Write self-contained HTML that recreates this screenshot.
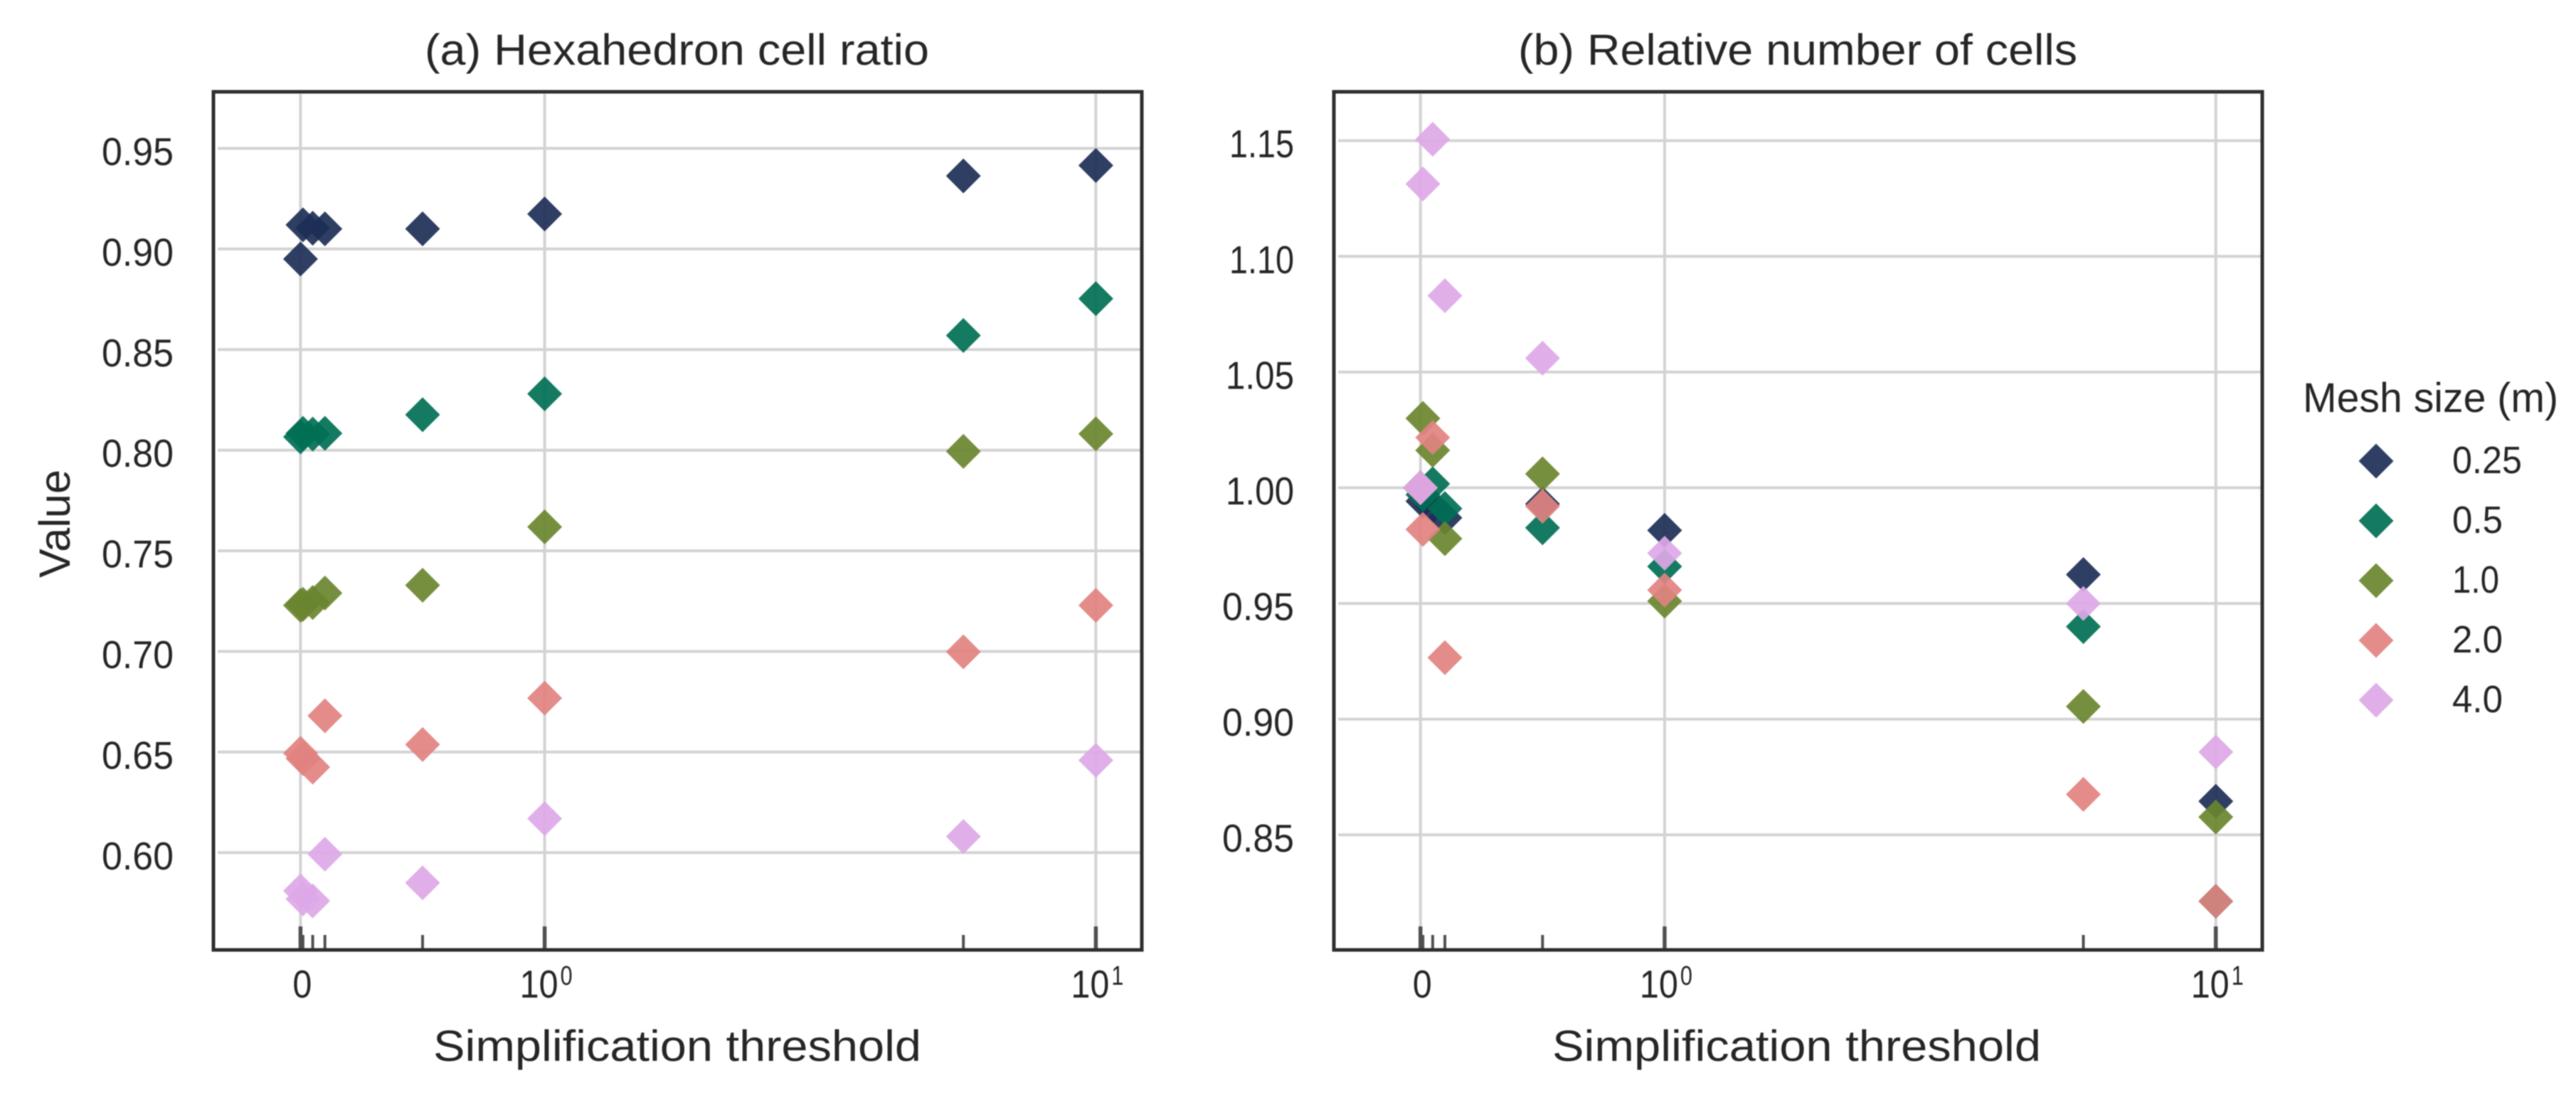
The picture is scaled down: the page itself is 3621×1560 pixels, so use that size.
<!DOCTYPE html>
<html lang="en">
<head>
<meta charset="utf-8">
<title>Hexahedron cell ratio and relative number of cells</title>
<style>
  html, body { margin: 0; padding: 0; background: #fff; }
  svg { display: block; filter: blur(0.7px); }
  text { font-family: "Liberation Sans", sans-serif; fill: #262626; }
</style>
</head>
<body>
<svg id="chart" xmlns="http://www.w3.org/2000/svg" width="3621" height="1560" viewBox="0 0 3621 1560">
  <rect x="0" y="0" width="3621" height="1560" fill="#ffffff"/>
  <g id="panel-a"></g>
  <g id="panel-b"></g>

  <text x="597" y="91" font-size="61" textLength="709" lengthAdjust="spacingAndGlyphs">(a) Hexahedron cell ratio</text>
  <text x="2134" y="91" font-size="61" textLength="786" lengthAdjust="spacingAndGlyphs">(b) Relative number of cells</text>
  <text transform="translate(98,812) rotate(-90)" font-size="61" textLength="152" lengthAdjust="spacingAndGlyphs">Value</text>
  <text x="609" y="1491" font-size="61" textLength="686" lengthAdjust="spacingAndGlyphs">Simplification threshold</text>
  <text x="2182" y="1491" font-size="61" textLength="687" lengthAdjust="spacingAndGlyphs">Simplification threshold</text>

  <g id="legend">
    <text x="3237" y="579" font-size="58" textLength="359" lengthAdjust="spacingAndGlyphs">Mesh size (m)</text>
  </g>
</svg>

<script>
// Shared x categories (simplification thresholds)
const thresholds = [0, 0.01, 0.05, 0.1, 0.5, 1, 5.75, 10];
const majorXTicks = [0, 1, 10];
const minorXTicks = [0.01, 0.05, 0.1, 0.5, 5.75];
const xTickBases = ["0", "10", "10"];
const xTickExponents = ["", "0", "1"];

// Mesh sizes and colours
const meshSizes = ["0.25", "0.5", "1.0", "2.0", "4.0"];
const meshColors = ["#1d2e56", "#006f54", "#6a862f", "#e18280", "#dda8e7"];

// Panel (a) hexahedron cell ratio
const ratio025 = [0.895, 0.912, 0.9103, 0.910, 0.910, 0.9174, 0.9363, 0.9415];
const ratio05 = [0.8066, 0.8084, 0.808, 0.8084, 0.8176, 0.828, 0.857, 0.8753];
const ratio10 = [0.7229, 0.7234, 0.7243, 0.729, 0.7329, 0.7619, 0.7994, 0.8081];
const ratio20 = [0.6494, 0.6468, 0.6425, 0.668, 0.6537, 0.6768, 0.6998, 0.7229];
const ratio40 = [0.581, 0.577, 0.576, 0.5992, 0.585, 0.6169, 0.608, 0.6459];
const yTicksA = [0.60, 0.65, 0.70, 0.75, 0.80, 0.85, 0.90, 0.95];

// Panel (b) relative number of cells
const cells025 = [1.0, 0.9942, 0.992, 0.987, 0.993, 0.9816, 0.9625, 0.8645];
const cells05 = [1.0, 0.997, 1.0017, 0.991, 0.9827, 0.966, 0.94, 0.8213];
const cells10 = [1.0, 1.030, 1.0162, 0.978, 1.006, 0.951, 0.9055, 0.8577];
const cells20 = [1.0, 0.982, 1.0217, 0.9266, 0.992, 0.9558, 0.8675, 0.8213];
const cells40 = [1.0, 1.1313, 1.1506, 1.083, 1.056, 0.9717, 0.95, 0.8858];
const yTicksB = [0.85, 0.90, 0.95, 1.00, 1.05, 1.10, 1.15];

const SVG_NS = "http://www.w3.org/2000/svg";

function make(parent, tag, attrs, content) {
  const el = document.createElementNS(SVG_NS, tag);
  for (const k in attrs) el.setAttribute(k, attrs[k]);
  if (content !== undefined) el.textContent = content;
  parent.appendChild(el);
  return el;
}

function xAxis(x0) {
  return function (v) {
    const linear = 343.2;
    const decade = 774.8;
    return x0 + (v <= 1 ? linear * v : linear + decade * Math.log10(v));
  };
}

function yAxis(refPx, refVal, slope) {
  return function (v) { return refPx + (refVal - v) * slope; };
}

function diamondPoints(cx, cy) {
  const hw = 24.5, hh = 24.5;
  return (cx - hw) + "," + cy + " " + cx + "," + (cy - hh) + " " + (cx + hw) + "," + cy + " " + cx + "," + (cy + hh);
}

// Width of a numeric label: the "1" glyph in the reference face is narrow
function numberWidth(s, full) {
  const ones = s.split("1").length - 1;
  return full - ones * 5;
}

function drawPanel(group, key, box, xs, ys, yTicks, seriesList) {
  // grid
  yTicks.forEach(function (t) {
    const line = make(group, "line", { x1: box.left + 6, x2: box.right - 2, y1: ys(t), y2: ys(t), stroke: "#d3d3d3", "stroke-width": 4 });
    
    
  });
  majorXTicks.forEach(function (t) {
    const line = make(group, "line", { x1: xs(t), x2: xs(t), y1: box.top + 3, y2: box.bottom, stroke: "#d3d3d3", "stroke-width": 4 });
    
    
  });

  // ticks
  majorXTicks.forEach(function (t) {
    const tick = make(group, "line", { x1: xs(t), x2: xs(t), y1: box.bottom - 33, y2: box.bottom, stroke: "#505050", "stroke-width": 5.5 });
    
    
  });
  minorXTicks.forEach(function (t) {
    const tick = make(group, "line", { x1: xs(t), x2: xs(t), y1: box.bottom - 21, y2: box.bottom, stroke: "#505050", "stroke-width": 4 });
    
    
  });

  // markers
  seriesList.forEach(function (values, i) {
    const g = make(group, "g", {});
    
    
    values.forEach(function (v, j) {
      const p = make(g, "polygon", { points: diamondPoints(xs(thresholds[j]), ys(v)), fill: meshColors[i], "fill-opacity": 0.92 });
      
      
    });
  });

  // frame
  const frame = make(group, "rect", { x: box.left, y: box.top, width: box.right - box.left, height: box.bottom - box.top, fill: "none", stroke: "#2f2f2f", "stroke-width": 5 });
  
  

  // y tick labels
  yTicks.forEach(function (t) {
    const text = t.toFixed(2);
    const label = make(group, "text", { x: box.left - 56, y: ys(t) + 23.5, "font-size": 55, "text-anchor": "end", textLength: numberWidth(text, 101), lengthAdjust: "spacingAndGlyphs" }, text);
    
    
  });

  // x tick labels
  majorXTicks.forEach(function (t, i) {
    const px = xs(t);
    if (xTickExponents[i] === "") {
      const zero = make(group, "text", { x: px - 11, y: 1402, "font-size": 55, textLength: 27, lengthAdjust: "spacingAndGlyphs" }, xTickBases[i]);
      
      
    } else {
      const base = make(group, "text", { x: px - 35, y: 1402, "font-size": 55, textLength: 54, lengthAdjust: "spacingAndGlyphs" }, xTickBases[i]);
      
      
      const exp = make(group, "text", { x: px + 22, y: 1384, "font-size": 38, textLength: 17, lengthAdjust: "spacingAndGlyphs" }, xTickExponents[i]);
      
      
    }
  });
}

drawPanel(
  document.getElementById("panel-a"), "a",
  { left: 300, right: 1605, top: 129, bottom: 1335 },
  xAxis(422.4), yAxis(208.5, 0.95, 2828), yTicksA,
  [ratio025, ratio05, ratio10, ratio20, ratio40]
);

drawPanel(
  document.getElementById("panel-b"), "b",
  { left: 1875, right: 3180, top: 129, bottom: 1335 },
  xAxis(1996.7), yAxis(685.5, 1.0, 3252), yTicksB,
  [cells025, cells05, cells10, cells20, cells40]
);

// legend
const legend = document.getElementById("legend");
meshSizes.forEach(function (size, i) {
  const rowY = 648 + i * 84;
  const marker = make(legend, "polygon", { points: diamondPoints(3340, rowY), fill: meshColors[i], "fill-opacity": 0.92 });
  
  
  const label = make(legend, "text", { x: 3447, y: rowY + 17, "font-size": 54, textLength: numberWidth(size, size.length === 4 ? 98 : 71), lengthAdjust: "spacingAndGlyphs" }, size);
  
  
});
</script>
</body>
</html>
